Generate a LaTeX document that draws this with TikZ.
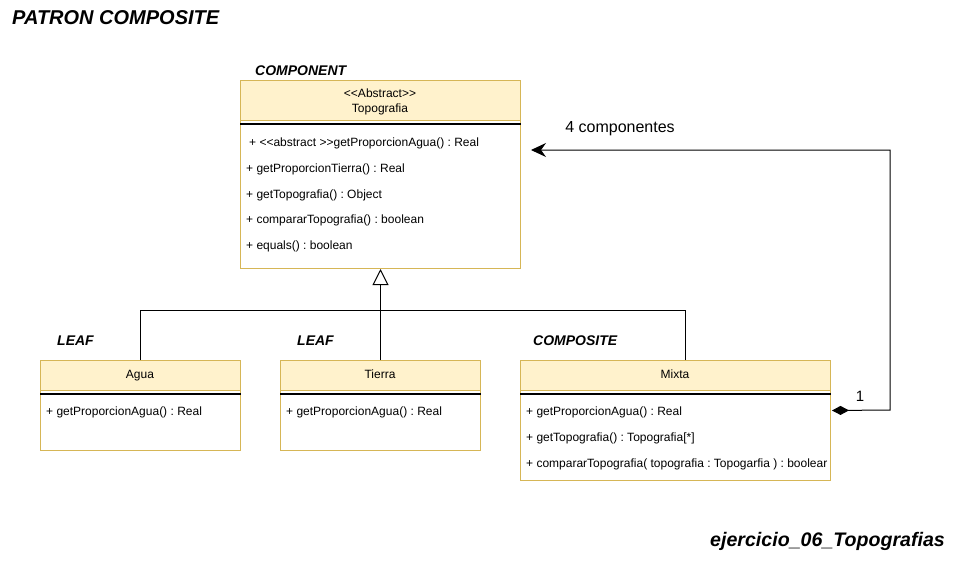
\documentclass[tikz,border=0pt]{standalone}
\usepackage{fontspec}
\setmainfont{Liberation Sans}
\usetikzlibrary{arrows.meta}
\definecolor{classfill}{HTML}{FFF2CC}
\definecolor{classline}{HTML}{D6B656}

\begin{document}
\frenchspacing
\begin{tikzpicture}[x=1pt,y=-1pt,
  classbody/.style={draw=classline, fill=white, line width=1pt, inner sep=0pt,
    anchor=north west},
  classhead/.style={draw=classline, fill=classfill, line width=1pt, inner sep=0pt,
    anchor=north west},
  divider/.style={draw=black, line width=1.1pt},
  txt/.style={inner sep=0pt, font=\fontsize{12}{14}\selectfont,
    text height=0.72em, text depth=0.21em, yshift=-2.2pt},
  member/.style={txt, anchor=west},
  role/.style={inner sep=0pt, anchor=west, font=\fontsize{14}{16}\selectfont\bfseries\itshape,
    text height=0.72em, text depth=0.21em, yshift=-2.5pt},
  wire/.style={draw=black, line width=1pt},
  inherit/.style={wire, -{Triangle[open, length=16pt, width=16pt, line width=1pt]}},
  compose/.style={wire, {Diamond[length=17pt, width=9pt]}-{Stealth[length=15pt, width=14pt, inset=5pt]}}
]
% page
\fill[white] (0,0) rectangle (956,560);
\useasboundingbox (0,0) rectangle (956,560);

% titles
\node[inner sep=0pt, anchor=west, font=\fontsize{20}{24}\selectfont\bfseries\itshape,
  text height=0.72em, text depth=0.21em, yshift=-1.5pt]
  (title) at (12,20) {PATRON COMPOSITE};
\node[inner sep=0pt, anchor=east, font=\fontsize{19.6}{23}\selectfont\bfseries\itshape,
  text height=0.72em, text depth=0.21em, yshift=-2.5pt]
  (footer) at (945,541) {ejercicio\_06\_Topografias};

% ---- Topografia (component)
\node[classbody, minimum width=280pt, minimum height=188pt] (topo) at (240,80) {};
\node[classhead, minimum width=280pt, minimum height=40pt] (topohead) at (240,80) {};
\draw[divider] ([yshift=-44pt]topo.north west) -- ([yshift=-44pt]topo.north east);
\node[txt] (topost) at (380,93) {<{}<Abstract>{}>};
\node[txt] (toponame) at (380,108) {Topografia};
\node[member] (tm1) at (249,142) {+ <{}<abstract >{}>getProporcionAgua() : Real};
\node[member] (tm2) at (246,168) {+ getProporcionTierra() : Real};
\node[member] (tm3) at (246,194) {+ getTopografia() : Object};
\node[member] (tm4) at (246,219) {+ compararTopografia() : boolean};
\node[member] (tm5) at (246,245) {+ equals() : boolean};
\node[role] (lcomp) at (255,70) {COMPONENT};

% ---- Agua (leaf)
\node[classbody, minimum width=200pt, minimum height=90pt] (agua) at (40,360) {};
\node[classhead, minimum width=200pt, minimum height=30pt] (aguahead) at (40,360) {};
\draw[divider] ([yshift=-34pt]agua.north west) -- ([yshift=-34pt]agua.north east);
\node[txt] (aguaname) at (140,374) {Agua};
\node[member] (am1) at (46,411) {+ getProporcionAgua() : Real};
\node[role] (lleaf1) at (57,340) {LEAF};

% ---- Tierra (leaf)
\node[classbody, minimum width=200pt, minimum height=90pt] (tierra) at (280,360) {};
\node[classhead, minimum width=200pt, minimum height=30pt] (tierrahead) at (280,360) {};
\draw[divider] ([yshift=-34pt]tierra.north west) -- ([yshift=-34pt]tierra.north east);
\node[txt] (tierraname) at (380,374) {Tierra};
\node[member] (trm1) at (286,411) {+ getProporcionAgua() : Real};
\node[role] (lleaf2) at (297,340) {LEAF};

% ---- Mixta (composite)
\node[classbody, minimum width=310pt, minimum height=120pt] (mixta) at (520,360) {};
\node[classhead, minimum width=310pt, minimum height=30pt] (mixtahead) at (520,360) {};
\draw[divider] ([yshift=-34pt]mixta.north west) -- ([yshift=-34pt]mixta.north east);
\node[txt] (mixtaname) at (675,374) {Mixta};
\node[member] (mm1) at (526,411) {+ getProporcionAgua() : Real};
\node[member] (mm2) at (526,437) {+ getTopografia() : Topografia[*]};
\node[member] (mm3) at (526,463) {+ compararTopografia( topografia : Topogarfia ) : boolear};
\node[role] (lcompo) at (533,340) {COMPOSITE};

% ---- generalisation tree
\coordinate (join) at (380,310);
\draw[wire] (agua.north) -- (agua.north |- join) -- (join);
\draw[wire] ([xshift=10pt]mixta.north) |- (join);
\draw[inherit] (tierra.north) -- (topo.south);

% ---- composition back to the component
\coordinate (compend) at (531,150);
\draw[compose] ([xshift=1pt,yshift=10pt]mixta.east) -- (890,410) |- (compend);
\node[inner sep=0pt, font=\fontsize{15}{18}\selectfont] (mult1) at (860,396) {1};
\node[inner sep=0pt, font=\fontsize{16}{19}\selectfont, yshift=-1.5pt] (mult4) at (620,127) {4 componentes};
\end{tikzpicture}
\end{document}
